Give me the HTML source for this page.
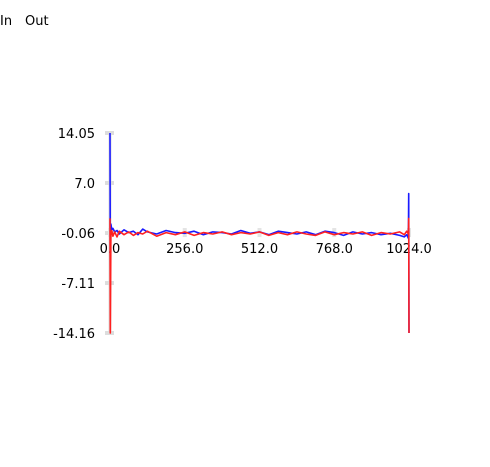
<!DOCTYPE html>
<html><head><meta charset="utf-8"><style>
html,body{margin:0;padding:0;background:#fff;width:490px;height:467px;overflow:hidden}
svg text{font-family:"DejaVu Sans","Liberation Sans",sans-serif;font-size:13px;fill:#000}
</style></head><body>
<svg id="chart" width="490" height="467">
<g id="legend">
<text x="0" y="25">In</text>
<text x="25" y="25">Out</text>
</g>
<g id="axes"></g>
<g id="series"></g>
</svg>
<script>
const yTicks=[14.05,7.0,-0.06,-7.11,-14.16];
const yTickLabels=['14.05','7.0','-0.06','-7.11','-14.16'];
const xTicks=[0,256,512,768,1024];
const xIdx=[0,1,3,6,10,16,24,32,48,64,80,96,112,128,160,192,224,256,288,320,352,384,416,448,480,512,544,576,608,640,672,704,736,768,800,832,864,896,928,960,992,1008,1016,1022,1023,1024];
const inVals=[14.05,-5.2,1.2,0.4,0.6,0.1,0.3,-0.2,0.4,0.0,0.2,-0.3,0.5,0.1,-0.2,0.3,0.0,-0.1,0.2,-0.3,0.1,0.0,-0.2,0.3,-0.1,0.1,-0.3,0.2,0.0,-0.2,0.1,-0.3,0.2,0.0,-0.4,0.1,-0.2,0.0,-0.3,-0.1,-0.4,-0.6,-0.3,-0.8,5.5,-14.16];
const outVals=[2.0,-14.16,-0.4,0.3,-0.5,0.1,-0.6,0.2,-0.3,0.1,-0.4,0.0,-0.2,0.2,-0.5,0.0,-0.3,0.1,-0.4,0.0,-0.2,0.1,-0.3,0.0,-0.2,0.1,-0.4,0.0,-0.3,0.1,-0.2,-0.4,0.1,-0.3,0.0,-0.2,0.1,-0.4,0.0,-0.2,0.1,-0.3,0.2,-0.2,2.0,-14.16];
const X0=110,X1=409,Y0=133,Y1=333,VMAX=14.05,VMIN=-14.16,IMAX=1024;
const xs=i=>X0+(i/IMAX)*(X1-X0);
const ys=v=>Y0+(VMAX-v)/(VMAX-VMIN)*(Y1-Y0);
const NS='http://www.w3.org/2000/svg';
const axes=document.getElementById('axes'),ser=document.getElementById('series');
function mk(t,a,p){const e=document.createElementNS(NS,t);for(const k in a)e.setAttribute(k,a[k]);p.appendChild(e);return e;}
const yl=mk('line',{x1:X0,x2:X0,y1:Y0,y2:Y1,stroke:'#ddd','stroke-width':3},axes);


yTicks.forEach((v,k)=>{
  const t=mk('rect',{x:X0-5,y:ys(v)-2,width:9,height:4,fill:'#ddd'},axes);
  
  
  const l=mk('text',{x:X0-15,y:ys(v)+5,'text-anchor':'end'},axes);
  l.textContent=yTickLabels[k];
  
  
});
xTicks.forEach(i=>{
  const t=mk('rect',{x:xs(i)-2,y:ys(-0.06)-5,width:4,height:9,fill:'#e4e4e4'},axes);
  
  
  const l=mk('text',{x:xs(i),y:ys(-0.06)+20,'text-anchor':'middle'},axes);
  l.textContent=i.toFixed(1);
  
  
});
function line(vals,col,name){
  const d=xIdx.map((i,k)=>(k?'L':'M')+xs(i).toFixed(1)+','+ys(vals[k]).toFixed(1)).join('');
  const p=mk('path',{d:d,fill:'none',stroke:col,'stroke-width':1.6,'stroke-linejoin':'round'},ser);
  
  
}
line(inVals,'#1a1aff','in-series-line');
line(outVals,'#ff2020','out-series-line');
</script>
</body></html>
